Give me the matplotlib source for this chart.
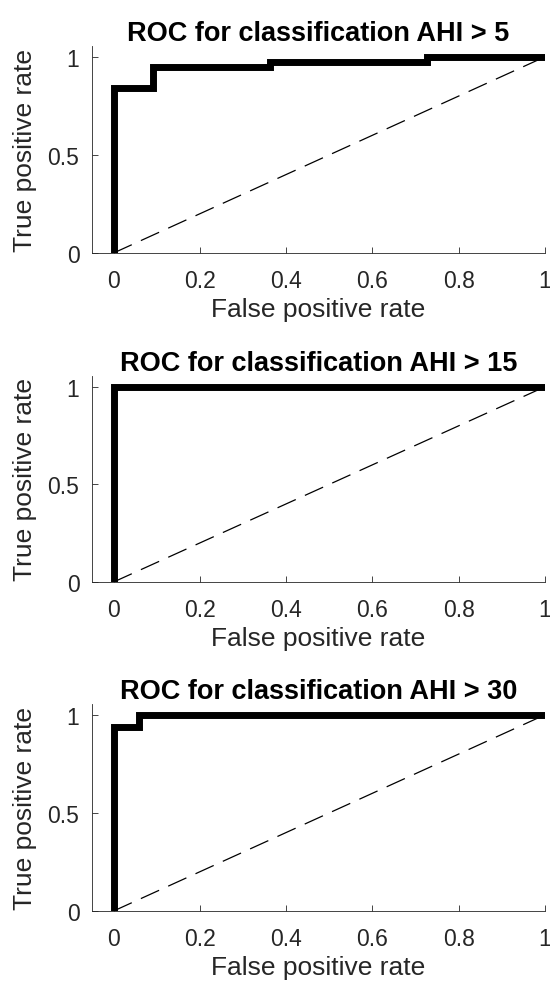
import matplotlib
matplotlib.use('Agg')
import matplotlib.pyplot as plt

plt.rcParams['font.family'] = ['Liberation Sans', 'DejaVu Sans']

# ROC curves (false positive rate, true positive rate), step points
titles = ['ROC for classification AHI > 5',
          'ROC for classification AHI > 15',
          'ROC for classification AHI > 30']
fpr_5 = [0, 0, 0.0909, 0.0909, 0.3636, 0.3636, 0.7273, 0.7273, 1]
tpr_5 = [0, 0.842, 0.842, 0.947, 0.947, 0.974, 0.974, 1, 1]
fpr_15 = [0, 0, 1]
tpr_15 = [0, 1, 1]
fpr_30 = [0, 0, 0.0588, 0.0588, 1]
tpr_30 = [0, 0.9375, 0.9375, 1, 1]
curves = [(fpr_5, tpr_5), (fpr_15, tpr_15), (fpr_30, tpr_30)]

xticks = [0, 0.2, 0.4, 0.6, 0.8, 1]
xticklabels = ['0', '0.2', '0.4', '0.6', '0.8', '1']
yticks = [0, 0.5, 1]
yticklabels = ['0', '0.5', '1']

fig = plt.figure(figsize=(5.5, 9.87), dpi=100)
W, H = 550, 987
# axes boxes in pixels: top, bottom
boxes = [(47, 254), (377, 583), (705, 912)]
left, right = 92, 545

for (top, bottom), (fx, ty), title in zip(boxes, curves, titles):
    ax = fig.add_axes([left / W, 1 - bottom / H, (right - left) / W, (bottom - top) / H])
    ax.plot([0, 1], [0, 1], color='k', linewidth=0.9, dashes=(16, 8))
    ax.plot(fx, ty, color='k', linewidth=5, solid_joinstyle='miter', solid_capstyle='butt')
    ax.set_xlim(-0.05, 1)
    ax.set_ylim(0, 1.055)
    ax.set_xticks(xticks)
    ax.set_xticklabels(xticklabels)
    ax.set_yticks(yticks)
    ax.set_yticklabels(yticklabels)
    ax.tick_params(direction='in', length=4, width=0.6, color='#262626',
                   labelcolor='#262626', labelsize=16.5)
    ax.tick_params(axis='x', pad=11.5)
    ax.tick_params(axis='y', pad=9)
    for s in ['top', 'right']:
        ax.spines[s].set_visible(False)
    for s in ['left', 'bottom']:
        ax.spines[s].set_linewidth(0.6)
        ax.spines[s].set_color('#262626')
    ax.set_title(title, fontsize=19.5, fontweight='bold', pad=4.5)
    ax.set_xlabel('False positive rate', fontsize=19, labelpad=3.5, color='#262626')
    ax.set_ylabel('True positive rate', fontsize=19, labelpad=8, color='#262626')

fig.savefig('out.png', dpi=100)
